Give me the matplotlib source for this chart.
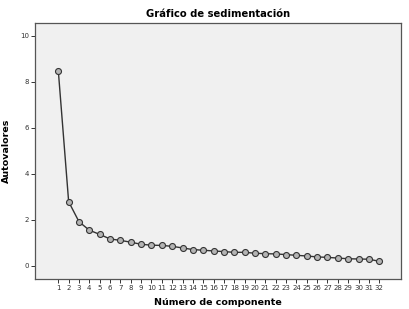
import matplotlib
matplotlib.use("Agg")
import matplotlib.pyplot as plt

componentes = list(range(1, 33))
autovalores = [8.48, 2.78, 1.91, 1.54, 1.36, 1.16, 1.10, 1.02, 0.93, 0.89,
               0.88, 0.84, 0.77, 0.70, 0.67, 0.64, 0.61, 0.58, 0.58, 0.54,
               0.52, 0.51, 0.48, 0.45, 0.42, 0.38, 0.36, 0.33, 0.30, 0.29,
               0.28, 0.19]
y_ticks = [0, 2, 4, 6, 8, 10]

fig = plt.figure(figsize=(4.09, 3.09), dpi=100)
ax = fig.add_axes([35 / 409, 1 - 279 / 309, 366 / 409, 256 / 309])
ax.set_facecolor("#f0f0f0")

ax.plot(componentes, autovalores, color="#333333", linewidth=1.0,
        marker="o", markersize=4.3, markerfacecolor="#b4b4b4",
        markeredgecolor="#333333", markeredgewidth=0.8)

ax.set_xlim(-1.25, 34.1)
ax.set_ylim(-0.58, 10.55)
ax.set_xticks(componentes)
ax.set_xticklabels([str(c) for c in componentes], fontsize=5)
ax.set_yticks(y_ticks)
ax.set_yticklabels([str(v) for v in y_ticks], fontsize=5)
ax.tick_params(direction="out", length=3, width=0.7, colors="#333333", pad=1.5)

for s in ax.spines.values():
    s.set_color("#555555")
    s.set_linewidth(0.9)

ax.set_title("Gráfico de sedimentación", fontsize=7.2, fontweight="bold", pad=4)
ax.set_xlabel("Número de componente", fontsize=6.8, fontweight="bold")
ax.set_ylabel("Autovalores", fontsize=6.8, fontweight="bold")
ax.xaxis.set_label_coords(0.5, -0.075)
ax.yaxis.set_label_coords(-0.065, 0.5)

fig.savefig("out.png", dpi=100)
